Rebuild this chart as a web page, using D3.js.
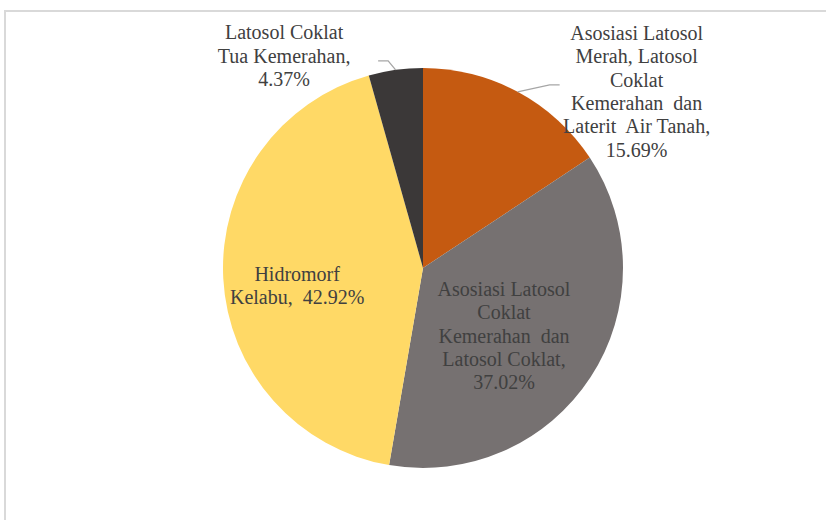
<!DOCTYPE html>
<html>
<head>
<meta charset="utf-8">
<script src="https://cdn.jsdelivr.net/npm/d3@7"></script>
<style>
  body { margin: 0; background: #fff; }
  svg { display: block; }
</style>
</head>
<body>
<div id="chart"></div>
<script>
// data
var categories = [
    ["Asosiasi Latosol", "Merah, Latosol", "Coklat", "Kemerahan  dan", "Laterit  Air Tanah,"],
    ["Asosiasi Latosol", "Coklat", "Kemerahan  dan", "Latosol Coklat,"],
    ["Hidromorf", "Kelabu,  "],
    ["Latosol Coklat", "Tua Kemerahan,"]
]
var values = [15.69, 37.02, 42.92, 4.37]
var colors = ["#C55A11", "#767171", "#FFD966", "#3B3838"]

// label placement: inside labels offset from centroid, outside ones get a leader line
var labelLayout = [
    { outside: true, elbow: [32, -7], end: [10, 0], off: [77, 6.5] },
    { outside: false, off: [-19.5, 2] },
    { outside: false, off: [-6, 11] },
    { outside: true, elbow: [-7.5, -9], end: [-10, 0], off: [-94, -5] }
]

var width = 826, height = 520
var cx = 423, cy = 268, radius = 200
var lineH = 23.4

var svg = d3.select("#chart").append("svg")
    .attr("width", width)
    .attr("height", height)

// chart border (only top and left are in view)
svg.append("rect")
    .attr("x", 5)
    .attr("y", 11)
    .attr("width", 900)
    .attr("height", 600)
    .attr("fill", "none")
    .attr("stroke", "#D9D9D9")
    .attr("stroke-width", 2)

var g = svg.append("g").attr("transform", "translate(" + cx + "," + cy + ")")

var pie = d3.pie().sort(null).value(function(d) { return d })
var arcs = pie(values)

var arc = d3.arc().innerRadius(0).outerRadius(radius)
var labelArc = d3.arc().innerRadius(radius * 0.6).outerRadius(radius * 0.6)

g.selectAll("path.slice")
    .data(arcs)
    .enter().append("path")
    .attr("class", "slice")
    .attr("d", arc)
    .attr("fill", function(d, i) { return colors[i] })

arcs.forEach(function(d, i) {
    var lay = labelLayout[i]
    var mid = (d.startAngle + d.endAngle) / 2
    var pos
    if (lay.outside) {
        var p0 = [radius * Math.sin(mid), -radius * Math.cos(mid)]
        var p1 = [p0[0] + lay.elbow[0], p0[1] + lay.elbow[1]]
        var p2 = [p1[0] + lay.end[0], p1[1] + lay.end[1]]
        g.append("polyline")
            .attr("points", [p0, p1, p2].map(function(p) { return p.join(",") }).join(" "))
            .attr("fill", "none")
            .attr("stroke", "#A6A6A6")
            .attr("stroke-width", 1.3)
        pos = [p2[0] + lay.off[0], p2[1] + lay.off[1]]
    } else {
        var c = labelArc.centroid(d)
        pos = [c[0] + lay.off[0], c[1] + lay.off[1]]
    }

    var lines = categories[i].slice()
    var pct = values[i].toFixed(2) + "%"
    if (i == 2) {
        lines[lines.length - 1] = lines[lines.length - 1] + pct
    } else {
        lines.push(pct)
    }

    var n = lines.length
    var firstBase = pos[1] - (n - 1) * lineH / 2 + 7
    var text = g.append("text")
        .attr("font-family", "'Liberation Serif', 'DejaVu Serif', serif")
        .attr("font-size", 20)
        .attr("fill", "#404040")
        .attr("text-anchor", "middle")
        .style("white-space", "pre")
    lines.forEach(function(t, j) {
        text.append("tspan")
            .attr("x", pos[0])
            .attr("y", firstBase + j * lineH)
            .text(t)
    })
})
</script>
</body>
</html>
